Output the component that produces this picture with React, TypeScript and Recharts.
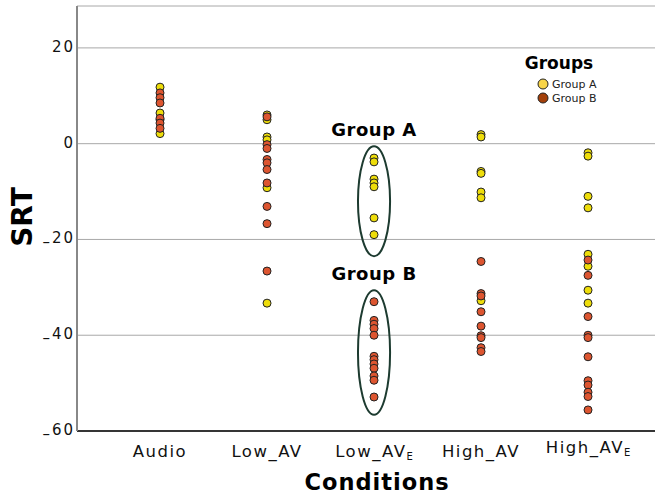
import { ScatterChart, Scatter, XAxis, YAxis, CartesianGrid, ReferenceArea, Legend } from "recharts";

const FONT = "DejaVu Sans";

// condition labels on the x axis (second list holds the subscript)
const conditions = ["Audio", "Low_AV", "Low_AV", "High_AV", "High_AV"];
const conditionSubs = ["", "", "E", "", "E"];
const yTicks = [-60, -40, -20, 0, 20];

// SRT values, one list per condition
const audioA = [11.8, 6.4, 5.0, 2.1];
const audioB = [10.6, 9.6, 8.5, 5.3, 4.3, 3.2];
const lowAvA = [6.0, 5.0, 1.4, 0.8, -9.2, -33.3];
const lowAvB = [5.6, -0.2, -1.0, -3.3, -4.0, -5.4, -8.2, -13.1, -16.7, -26.6];
const lowAvEA = [-3.0, -3.8, -7.4, -8.2, -9.0, -15.5, -19.0];
const lowAvEB = [-33.0, -36.9, -37.7, -38.6, -40.0, -44.4, -45.1, -46.0, -46.9, -48.5, -49.4, -52.9];
const highAvA = [1.9, 1.4, -5.8, -6.2, -10.1, -11.3, -32.8];
const highAvB = [-24.6, -31.3, -31.8, -35.1, -38.1, -40.1, -40.5, -42.6, -43.4];
const highAvEA = [-1.9, -2.6, -11.0, -13.4, -23.1, -25.6, -30.6, -33.3];
const highAvEB = [-24.3, -27.5, -36.1, -40.0, -40.5, -44.5, -49.5, -50.4, -51.9, -52.8, -55.6];

const toPoints = (lists: number[][]) =>
  lists.flatMap((vals, i) => vals.map((v) => ({ x: i + 1, y: v })));

const groupA = toPoints([audioA, lowAvA, lowAvEA, highAvA, highAvEA]);
const groupB = toPoints([audioB, lowAvB, lowAvEB, highAvB, highAvEB]);

const YELLOW = "#eedd0a";
const ORANGE = "#dd5530";

const dot = (fill: string) => (props: any) =>
  <circle cx={props.cx} cy={props.cy} r={4} fill={fill} stroke="#222" strokeWidth={1} />;

const XTick = ({ x, y, payload }: any) => {
  const i = payload.value - 1;
  const sub = conditionSubs[i];
  const lift = i === 4 ? -4 : 0;
  return (
    <text x={x} y={y + 18 + lift} textAnchor="middle" fontFamily={FONT} fontSize={16.5} fill="#111" style={{ letterSpacing: 1.5 }}>
      {conditions[i]}
      {sub && (
        <tspan fontSize={10} dy={3} style={{ letterSpacing: 0 }}>
          {sub}
        </tspan>
      )}
    </text>
  );
};

// minus sign sits low, near the baseline, in the original
const YTick = ({ x, y, payload }: any) => {
  const v = payload.value as number;
  return (
    <text x={x + 6} y={y + 4} textAnchor="end" fontFamily={FONT} fontSize={15} fill="#111" style={{ letterSpacing: 2 }}>
      {v < 0 && <tspan dy={4}>–</tspan>}
      <tspan dy={v < 0 ? -4 : 0}>{Math.abs(v)}</tspan>
    </text>
  );
};

// ellipse drawn inside the reference area, with its caption above
const ellipseShape = (caption: string) => (props: any) => {
  const { x, y, width, height } = props;
  return (
    <g>
      <ellipse cx={x + width / 2} cy={y + height / 2} rx={width / 2} ry={height / 2} fill="none" stroke="#1d3b30" strokeWidth={2} />
      <text x={x + width / 2} y={y - 10} textAnchor="middle" fontFamily={FONT} fontWeight="bold" fontSize={18} fill="#000" style={{ letterSpacing: 0.5 }}>
        {caption}
      </text>
    </g>
  );
};

const GroupsLegend = () => (
  <svg width={120} height={70}>
    <text x={59} y={29} textAnchor="middle" fontFamily={FONT} fontWeight="bold" fontSize={17} fill="#000">
      Groups
    </text>
    <circle cx={43} cy={44} r={5} fill="#f8d448" stroke="#222" strokeWidth={1} />
    <text x={52} y={48} fontFamily={FONT} fontSize={11} fill="#222">Group A</text>
    <circle cx={43} cy={58} r={5} fill="#a3400a" stroke="#222" strokeWidth={1} />
    <text x={52} y={62} fontFamily={FONT} fontSize={11} fill="#222">Group B</text>
  </svg>
);

export default function App() {
  return (
    <div style={{ position: "absolute", left: 0, top: 0, background: "#fff" }}>
      <ScatterChart width={655} height={497} margin={{ top: 6, right: 0, bottom: 0, left: 0 }}>
        <CartesianGrid horizontal vertical={false} stroke="#a8a8a8" strokeWidth={1} />
        <XAxis
          type="number"
          dataKey="x"
          domain={[0.224, 5.626]}
          ticks={[1, 2, 3, 4, 5]}
          allowDataOverflow
          height={66}
          axisLine={{ stroke: "#000", strokeWidth: 1.5 }}
          tickLine={false}
          tick={<XTick />}
          label={{
            content: () => (
              <text x={377} y={490} textAnchor="middle" fontFamily={FONT} fontWeight="bold" fontSize={22.5} fill="#000" style={{ letterSpacing: 1 }}>
                Conditions
              </text>
            ),
          }}
        />
        <YAxis
          type="number"
          dataKey="y"
          domain={[-60, 28.75]}
          ticks={yTicks}
          allowDataOverflow
          width={77}
          axisLine={{ stroke: "#888", strokeWidth: 2 }}
          tickLine={false}
          tick={<YTick />}
          label={{
            content: () => (
              <text x={32} y={217} transform="rotate(-90 32 217)" textAnchor="middle" fontFamily={FONT} fontWeight="bold" fontSize={28} fill="#000">
                SRT
              </text>
            ),
          }}
        />
        <ReferenceArea x1={2.85} x2={3.15} y1={-23.5} y2={-0.56} ifOverflow="visible" shape={ellipseShape("Group A")} />
        <ReferenceArea x1={2.85} x2={3.15} y1={-56.6} y2={-30.6} ifOverflow="visible" shape={ellipseShape("Group B")} />
        <Scatter name="Group A" data={groupA} shape={dot(YELLOW)} isAnimationActive={false} />
        <Scatter name="Group B" data={groupB} shape={dot(ORANGE)} isAnimationActive={false} />
        <Legend
          layout="vertical"
          align="center"
          verticalAlign="middle"
          wrapperStyle={{ position: "absolute", left: 500, top: 40, width: 120 }}
          content={() => <GroupsLegend />}
        />
      </ScatterChart>
    </div>
  );
}
